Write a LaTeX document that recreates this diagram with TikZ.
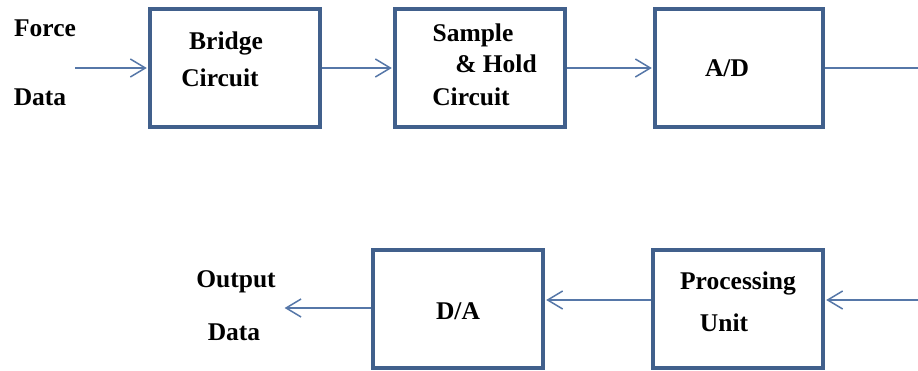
\documentclass[tikz,border=0pt]{standalone}
\usepackage{fontspec}
\setmainfont{Liberation Serif}
\usetikzlibrary{arrows.meta}
\definecolor{boxc}{HTML}{41608C}
\definecolor{arrc}{HTML}{5677A8}
\tikzset{
  blk/.style={draw=boxc, line width=3.2pt, minimum width=170pt, minimum height=118pt, inner sep=0pt},
  lbl/.style={anchor=base, inner sep=0pt, font=\fontsize{25.5}{28}\selectfont\bfseries, text=black},
  conn/.style={draw=arrc, line width=1.8pt},
  arr/.style={conn, -{Straight Barb[length=15pt,width=18pt,line width=1.5pt]}, shorten >=1.6pt}
}
\begin{document}
\begin{tikzpicture}[x=1pt,y=-1pt]
\useasboundingbox (0,0) rectangle (918,370);
% boxes
\node[blk] (bridge) at (235,68) {};
\node[blk] (sh) at (480,68) {};
\node[blk, minimum width=168pt] (ad) at (739,68) {};
\node[blk] (da) at (458,309) {};
\node[blk] (proc) at (738,309) {};
% texts
\node[lbl] (t1) at (45,36) {Force};
\node[lbl] (t2) at (40,105) {Data};
\node[lbl] (t3) at (226,49) {Bridge};
\node[lbl] (t4) at (220,86) {Circuit};
\node[lbl] (t5) at (473,41) {Sample};
\node[lbl] (t6) at (496,72) {\& Hold};
\node[lbl] (t7) at (471,105) {Circuit};
\node[lbl] (t8) at (727,76) {A/D};
\node[lbl] (t9) at (236,287) {Output};
\node[lbl] (t10) at (234,340) {Data};
\node[lbl] (t11) at (458,319) {D/A};
\node[lbl] (t12) at (738,289) {Processing};
\node[lbl] (t13) at (724,331) {Unit};
% connectors
\coordinate (in) at (75,68);
\coordinate (r1) at (918,68);
\coordinate (r2) at (918,300);
\coordinate (out) at (283,308);
\draw[arr] (in) -- (bridge.west |- in);
\draw[arr] (bridge.east) -- (sh.west);
\draw[arr] (sh.east) -- (ad.west);
\draw[conn] (ad.east) -- (r1);
\draw[arr] (r2) -- (r2 -| proc.east);
\draw[arr] (proc.west |- r2) -- (da.east |- r2);
\draw[arr] (da.west |- out) -- (out);
\end{tikzpicture}
\end{document}
